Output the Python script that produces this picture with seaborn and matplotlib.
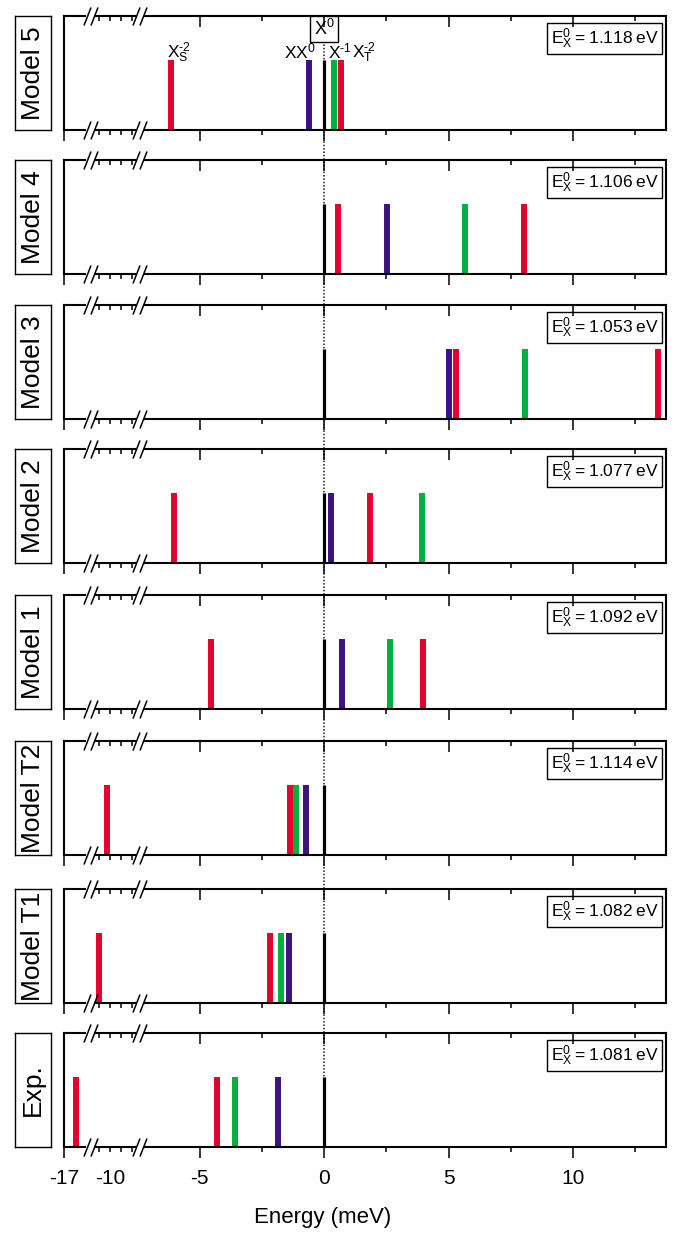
import numpy as np
import pandas as pd
import matplotlib
matplotlib.use('Agg')
import matplotlib.pyplot as plt
import matplotlib.transforms as mtransforms
import seaborn as sns

# panels, top to bottom
PANELS = ['Model 5', 'Model 4', 'Model 3', 'Model 2', 'Model 1', 'Model T2', 'Model T1', 'Exp.']
E_X0 = ['1.118', '1.106', '1.053', '1.077', '1.092', '1.114', '1.082', '1.081']

# line energies in meV relative to X0
X0 = [0, 0, 0, 0, 0, 0, 0, 0]
XX0 = [-0.60, 2.51, 5.02, 0.28, 0.72, -0.72, -1.42, -1.86]
X_M1 = [0.41, 5.65, 8.05, 3.92, 2.65, -1.12, -1.73, -3.59]
X_T2 = [0.69, 0.55, 5.29, 1.84, 3.96, -1.37, -2.17, -4.31]
X_S2 = [-6.16, 8.04, 13.41, -6.02, -4.52, -10.25, -11.04, -16.52]

MAJOR = [-17, -5, 0, 5, 10]
MAJOR_LABELS = ['-17', '-5', '0', '5', '10']
MINOR = [-11, -10, -9, -8, -2.5, 2.5, 7.5, 12.5]
MINOR_LABELS = ['', '-10', '', '', '', '', '', '']

PAL = {'XX0': '#3D1380', 'X-1': '#00B140', 'XT-2': '#E4032E', 'XS-2': '#E4032E'}

# broken axis: data value -> position along axis (piecewise linear)
BRK_DATA = [-17, -16.1, -11.6, -7.5, -7.35, 13.73]
BRK_POS = [64, 86.4, 92.7, 137, 141, 666]
BREAK_MARKS = [-13.2, -7.4]


def fwd(v):
    return np.interp(v, BRK_DATA, BRK_POS)


def inv(p):
    return np.interp(p, BRK_POS, BRK_DATA)


sns.set_theme(style='ticks', rc={'text.color': 'black', 'axes.labelcolor': 'black',
                                 'xtick.color': 'black', 'axes.edgecolor': 'black'})
plt.rcParams['font.family'] = ['Liberation Sans', 'DejaVu Sans']
plt.rcParams['axes.linewidth'] = 1.5

W, H = 676, 1236
TOPS = [16, 160, 305, 449, 595, 741, 889, 1033]
PH = 114
AX_L, AX_R = 64, 666
BAR_H = 0.61
HY = '\u2010'  # short hyphen used in the superscripts

fig = plt.figure(figsize=(W / 100, H / 100), dpi=100)

for i, name in enumerate(PANELS):
    top = TOPS[i]
    last = i == len(PANELS) - 1
    ax = fig.add_axes([AX_L / W, 1 - (top + PH) / H, (AX_R - AX_L) / W, PH / H])
    ax.set_xscale('function', functions=(fwd, inv))
    ax.set_xlim(-17, 13.73)
    ax.set_ylim(0, 1)

    df = pd.DataFrame({
        'E': [XX0[i], X_M1[i], X_T2[i], X_S2[i]],
        'line': ['XX0', 'X-1', 'XT-2', 'XS-2'],
    })

    # dotted guide at X0, running up through the gap above
    if i == 0:
        ext = 0.795
    else:
        ext = 1 + (top - (TOPS[i - 1] + PH)) / PH
    ax.axvline(0, ymin=0, ymax=ext, color='k', lw=1.1, ls=(0, (1, 1.2)),
               clip_on=False, zorder=1)

    sns.rugplot(data=df, x='E', hue='line', palette=PAL, height=BAR_H,
                linewidth=4.3, legend=False, expand_margins=False, ax=ax)
    sns.rugplot(x=[X0[i]], color='black', height=BAR_H, linewidth=2.3,
                expand_margins=False, ax=ax)
    ax.set_xlabel('')
    ax.set_ylabel('')

    ax.set_xticks(MAJOR, labels=MAJOR_LABELS)
    ax.set_xticks(MINOR, labels=MINOR_LABELS, minor=True)
    ax.set_yticks([])
    ax.tick_params(axis='x', which='major', direction='out', length=7.7, width=1.1,
                   labelsize=15, pad=8, labelbottom=last)
    ax.tick_params(axis='x', which='minor', direction='out', length=3.6, width=1.1,
                   labelsize=15, pad=12.1, labelbottom=last)
    for sp in ax.spines.values():
        sp.set_visible(True)
        sp.set_linewidth(1.5)
        sp.set_color('black')

    # top ticks point inward
    ax2 = ax.twiny()
    ax2.set_xscale('function', functions=(fwd, inv))
    ax2.set_xlim(ax.get_xlim())
    ax2.set_xticks(MAJOR)
    ax2.set_xticks(MINOR, minor=True)
    ax2.tick_params(axis='x', which='major', direction='in', length=7.7, width=1.1,
                    top=True, bottom=False, labeltop=False, labelbottom=False)
    ax2.tick_params(axis='x', which='minor', direction='in', length=3.6, width=1.1,
                    top=True, bottom=False, labeltop=False, labelbottom=False)
    for sp in ax2.spines.values():
        sp.set_visible(False)

    # axis break marks
    base = ax.get_xaxis_transform()
    for xb in BREAK_MARKS:
        for yb in (0, 1):
            ax.plot([xb], [yb], transform=base, marker='_', ms=5.5, mew=3.2,
                    color='white', clip_on=False, zorder=5)
            for dx in (-2.7, 2.7):
                t = base + mtransforms.ScaledTranslation(dx / 72, 0, fig.dpi_scale_trans)
                ax.plot([xb], [yb], transform=t, marker=[(-0.39, -1), (0.39, 1)],
                        ms=13, mew=1.1, color='black', clip_on=False, zorder=6)
    ax.set_xlim(-17, 13.73)

    ax.text(0.9874, 0.91, r'$\mathregular{E_X^0}$' + '\u2009=\u2009' + E_X0[i] + '\u2009eV',
            transform=ax.transAxes, ha='right', va='top', fontsize=12.5, zorder=7,
            bbox=dict(boxstyle='square,pad=0.2', fc='white', ec='black', lw=1.0))

    if i == 0:
        ax.annotate(r'$\mathregular{X^0}$', xy=(X0[i], 0.885),
                    xycoords=('data', 'axes fraction'), ha='center', va='center',
                    fontsize=13, zorder=7,
                    bbox=dict(boxstyle='square,pad=0.18', fc='white', ec='black', lw=1.0))
        labels = [
            (r'$\mathregular{XX^0}$', XX0[i], 4.8, 'right'),
            (r'$\mathregular{X^{' + HY + '1}}$', X_M1[i], -4.8, 'left'),
            (r'$\mathregular{X_T^{' + HY + '2}}$', X_T2[i], 7.6, 'left'),
            (r'$\mathregular{X_S^{' + HY + '2}}$', X_S2[i], -2.9, 'left'),
        ]
        for txt, xv, dx, ha in labels:
            ax.annotate(txt, xy=(xv, BAR_H), xycoords=('data', 'axes fraction'),
                        xytext=(dx, 1.5), textcoords='offset points',
                        ha=ha, va='baseline', fontsize=12.5)

    if last:
        ax.set_xlabel('Energy (meV)', fontsize=16)
        ax.xaxis.set_label_coords((323 - AX_L) / (AX_R - AX_L), -0.526)

    # panel name box
    lab = fig.add_axes([15 / W, 1 - (top + PH) / H, 36 / W, PH / H])
    lab.set_xticks([])
    lab.set_yticks([])
    for sp in lab.spines.values():
        sp.set_linewidth(1.0)
        sp.set_color('black')
    lab.text(0.5, 0.5, name, rotation=90, ha='center', va='center',
             fontsize=19, transform=lab.transAxes)

fig.savefig('out.png', dpi=100)
